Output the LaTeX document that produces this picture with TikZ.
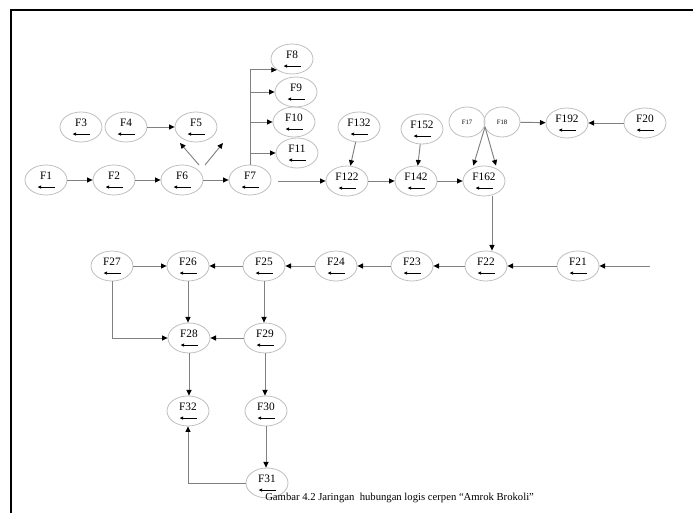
\documentclass[tikz,border=0pt]{standalone}
\usepackage{fontspec}
\setmainfont{Liberation Serif}
\usetikzlibrary{arrows.meta,shapes.geometric}
\definecolor{wire}{RGB}{128,128,128}
\definecolor{rim}{RGB}{190,190,190}
\tikzset{
  >={Triangle[length=4.2pt,width=3.8pt,color=black]},
  ev/.style={ellipse,draw=rim,line width=0.6pt,minimum width=31.5pt,minimum height=22.5pt,
    inner sep=0pt,font=\fontsize{8.5}{9}\selectfont,text height=5.5pt,text depth=5.5pt,
    path picture={\draw[-{Latex[length=2.8pt,width=2.6pt]},line width=0.6pt,black]
      ([xshift=6.5pt,yshift=-5.3pt]path picture bounding box.center) -- ++(-13pt,0);}},
  ev small/.style={ellipse,draw=rim,line width=0.6pt,minimum width=27pt,minimum height=22.5pt,
    inner sep=0pt,font=\fontsize{5}{6}\selectfont},
  flow/.style={->,draw=wire,line width=0.7pt},
  wire line/.style={draw=wire,line width=0.7pt},
}
\begin{document}
\begin{tikzpicture}[x=0.75pt,y=-0.75pt]
  \useasboundingbox (0,0) rectangle (694,513);
  \draw[line width=1.1pt] (11,513) -- (11,10) -- (693,10);
  % events
  \foreach \n/\x/\y in {F1/46/180,F2/114/180,F6/182/180,F7/250/180,F3/81/127,F4/126/127,
      F5/196/127,F8/292/59,F9/296/92,F10/294/122,F11/297/153,F122/347/181,F132/359/127,
      F152/422/129,F142/416/181,F162/484/181,F192/567/123,F20/645/123,F21/578/266,
      F22/486/266,F23/412/266,F24/336/266,F25/264/266,F26/188/266,F27/112/266,
      F28/189/338,F29/265/338,F32/188/411,F30/266/411,F31/267/483}
    \node[ev] (\n) at (\x,\y) {\n};
  \node[ev small] (F17) at (467,122) {F17};
  \node[ev small] (F18) at (502,122) {F18};
  % upper row
  \draw[flow] (F1) -- (F2);
  \draw[flow] (F2) -- (F6);
  \draw[flow] (F6) -- (F7);
  \draw[flow] (F4) -- (F5);
  \coordinate (f6a) at (199,165); \coordinate (f5a) at (180,143);
  \coordinate (f6b) at (205,165); \coordinate (f5b) at (223,143);
  \draw[flow] (f6a) -- (f5a);
  \draw[flow] (f6b) -- (f5b);
  \draw[wire line] (F7.north) -- (F7.north |- F8.south west);
  \draw[flow] (F7.north |- F8.south west) -- (F8.south west);
  \foreach \n in {F9,F10,F11}
    \draw[flow] (F7.north |- \n) -- (\n);
  \coordinate (g7) at (278,181);
  \draw[flow] (g7) -- (F122);
  \draw[flow] (F132) -- (F122);
  \draw[flow] (F152) -- (F142);
  \draw[flow] (F122) -- (F142);
  \draw[flow] (F142) -- (F162);
  \coordinate (j18) at (485,127);
  \draw[flow] (j18) -- ([xshift=-8pt]F162.north);
  \draw[flow] (j18) -- ([xshift=9pt]F162.north);
  \draw[flow] (F18) -- (F192);
  \draw[flow] (F20) -- (F192);
  \draw[flow] ([xshift=6pt]F162.south) -- ([xshift=6pt]F162.south |- F22.north);
  % lower part
  \coordinate (in21) at (650,266);
  \draw[flow] (in21) -- (F21);
  \draw[flow] (F21) -- (F22);
  \draw[flow] (F22) -- (F23);
  \draw[flow] (F23) -- (F24);
  \draw[flow] (F24) -- (F25);
  \draw[flow] (F25) -- (F26);
  \draw[flow] (F27) -- (F26);
  \draw[flow] (F26.south) -- (F26.south |- F28.north);
  \draw[flow] (F25.south) -- (F25.south |- F29.north);
  \draw[flow] (F29) -- (F28);
  \draw[flow] (F27.south) |- (F28.west);
  \draw[flow] (F28.south) -- (F28.south |- F32.north);
  \draw[flow] (F29.south) -- (F29.south |- F30.north);
  \draw[flow] (F30.south) -- (F30.south |- F31.north);
  \draw[flow] (F31.west) -| (F32.south);
  \node[anchor=base west,inner sep=0pt,font=\fontsize{8}{9}\selectfont] (cap) at (265,501)
    {Gambar 4.2 Jaringan~ hubungan logis cerpen “Amrok Brokoli”};
\end{tikzpicture}
\end{document}
